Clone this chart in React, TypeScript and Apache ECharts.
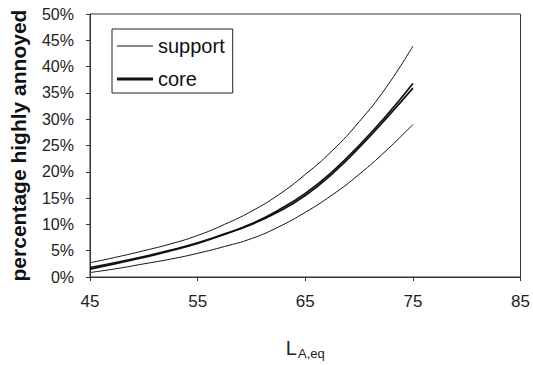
import React, { useEffect, useRef } from "react";
import * as echarts from "echarts";

const levels = [45, 47.5, 50, 52.5, 55, 57.5, 60, 62.5, 65, 67.5, 70, 72.5, 75];
const supportUpper = [2.7, 3.8, 5.0, 6.3, 7.9, 10.0, 12.5, 15.6, 19.5, 24.0, 29.5, 36.0, 43.9];
const coreA = [1.5, 2.6, 3.7, 5.0, 6.4, 8.1, 10.1, 12.7, 15.9, 20.0, 25.0, 30.6, 36.8];
const coreB = [1.8, 2.8, 3.9, 5.1, 6.5, 8.2, 10.0, 12.4, 15.5, 19.6, 24.6, 30.1, 35.9];
const supportLower = [0.85, 1.6, 2.5, 3.4, 4.5, 5.8, 7.3, 9.5, 12.3, 15.6, 19.5, 24.0, 29.0];
const xTicks = [45, 55, 65, 75, 85];

const FONT = "'Liberation Sans', Arial, sans-serif";

function pairs(ys: number[]) {
  return levels.map((x, i) => [x, ys[i]]);
}

export default function App() {
  const ref = useRef<HTMLDivElement>(null);
  useEffect(() => {
    if (!ref.current) return;
    const chart = echarts.init(ref.current, undefined, { renderer: "svg" });
    const thin = { color: "#111", width: 1 };
    const thick = { color: "#111", width: 1.7 };
    chart.setOption({
      animation: false,
      backgroundColor: "#fff",
      grid: {
        left: 89,
        right: 7,
        top: 14,
        bottom: 83,
        show: true,
        borderColor: "#333",
        borderWidth: 1,
      },
      legend: {
        left: 112,
        top: 29,
        orient: "vertical",
        data: [
          {
            name: "support",
            icon: "path://M0,0L30,0L30,1L0,1Z",
            itemStyle: { color: "#111", borderWidth: 0 },
          },
          {
            name: "core",
            icon: "path://M0,0L36,0L36,3L0,3Z",
            itemStyle: { color: "#111", borderWidth: 0 },
          },
        ],
        borderColor: "#222",
        borderWidth: 1,
        borderRadius: 0,
        padding: [7, 8, 4, 5],
        itemWidth: 36,
        itemHeight: 14,
        itemGap: 13,
        textStyle: { fontFamily: FONT, fontSize: 20, color: "#111" },
      },
      xAxis: {
        type: "value",
        min: 45,
        max: 85,
        interval: 10,
        axisLine: { show: true, lineStyle: { color: "#333" } },
        axisTick: { show: true, length: 4, lineStyle: { color: "#333" } },
        splitLine: { show: false },
        axisLabel: {
          fontFamily: FONT,
          fontSize: 17,
          color: "#222",
          margin: 16,
          formatter: (v: number) => (xTicks.includes(v) ? String(v) : ""),
        },
        name: "{l|L}{s|A,eq}",
        nameLocation: "middle",
        nameGap: 58,
        nameTextStyle: {
          rich: {
            l: { fontFamily: FONT, fontSize: 20, color: "#222", padding: [0, 1, 0, 0] },
            s: { fontFamily: FONT, fontSize: 13, color: "#222", padding: [12, 0, 0, 0] },
          },
        },
      },
      yAxis: {
        type: "value",
        min: 0,
        max: 50,
        interval: 5,
        axisLine: { show: true, lineStyle: { color: "#333" } },
        axisTick: { show: true, length: 4, lineStyle: { color: "#333" } },
        splitLine: { show: false },
        axisLabel: {
          fontFamily: FONT,
          fontSize: 16,
          color: "#222",
          margin: 16,
          formatter: "{value}%",
        },
        name: "percentage highly annoyed",
        nameLocation: "middle",
        nameGap: 61,
        nameTextStyle: {
          fontFamily: FONT,
          fontSize: 21,
          fontWeight: "bold",
          color: "#111",
        },
      },
      series: [
        {
          name: "support",
          type: "line",
          data: pairs(supportUpper),
          smooth: true,
          symbol: "none",
          lineStyle: thin,
          itemStyle: { color: "#111" },
        },
        {
          name: "support",
          type: "line",
          data: pairs(supportLower),
          smooth: true,
          symbol: "none",
          lineStyle: thin,
          itemStyle: { color: "#111" },
        },
        {
          name: "core",
          type: "line",
          data: pairs(coreA),
          smooth: true,
          symbol: "none",
          lineStyle: thick,
          itemStyle: { color: "#111" },
        },
        {
          name: "core",
          type: "line",
          data: pairs(coreB),
          smooth: true,
          symbol: "none",
          lineStyle: thick,
          itemStyle: { color: "#111" },
        },
      ],
    });
    return () => chart.dispose();
  }, []);
  return <div ref={ref} style={{ width: 533, height: 365, position: "absolute", left: 0, top: 0 }} />;
}
